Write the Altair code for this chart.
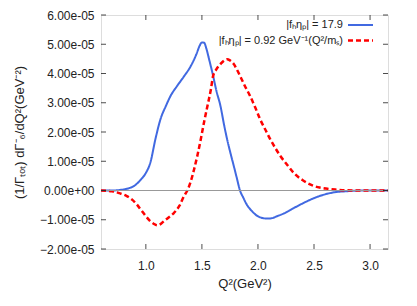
import altair as alt
import pandas as pd

# ---- data (y in units of 1e-5) ----
blue_x = [0.60, 0.70, 0.77, 0.85, 0.90, 0.95, 1.00, 1.04, 1.085, 1.13, 1.18, 1.22, 1.28, 1.34, 1.40,
          1.45, 1.48, 1.50, 1.52, 1.54, 1.56, 1.60, 1.63, 1.665, 1.70, 1.725, 1.76, 1.785, 1.81, 1.84,
          1.87, 1.90, 1.95, 1.99, 2.04, 2.08, 2.12, 2.17, 2.25, 2.32, 2.40, 2.47, 2.55, 2.62, 2.70,
          2.77, 2.85, 2.92, 3.16]
blue_y = [0.0, 0.0, 0.02, 0.08, 0.17, 0.35, 0.6, 0.95, 1.75, 2.43, 2.9, 3.23, 3.58, 3.9, 4.25,
          4.65, 4.95, 5.06, 5.05, 4.85, 4.55, 3.92, 3.4, 2.9, 2.2, 1.75, 1.2, 0.83, 0.45, 0.0,
          -0.25, -0.48, -0.72, -0.86, -0.94, -0.96, -0.95, -0.88, -0.75, -0.6, -0.44, -0.31, -0.19, -0.11, -0.05,
          -0.03, -0.01, 0.0, 0.0]

red_x = [0.60, 0.70, 0.77, 0.83, 0.88, 0.92, 0.96, 1.00, 1.04, 1.085, 1.10, 1.13, 1.16, 1.20, 1.25,
         1.30, 1.34, 1.37, 1.40, 1.43, 1.46, 1.49, 1.52, 1.55, 1.58, 1.60, 1.63, 1.665, 1.70, 1.725,
         1.75, 1.785, 1.81, 1.84, 1.88, 1.93, 1.98, 2.02, 2.07, 2.11, 2.16, 2.20, 2.26, 2.32, 2.40,
         2.47, 2.55, 2.62, 2.70, 2.77, 2.90, 3.16]
red_y = [0.0, -0.03, -0.1, -0.19, -0.32, -0.48, -0.68, -0.88, -1.05, -1.17, -1.19, -1.15, -1.05, -0.93, -0.77,
         -0.52, -0.19, 0.0, 0.3, 0.72, 1.2, 1.75, 2.35, 2.9, 3.45, 3.92, 4.15, 4.32, 4.45, 4.49,
         4.45, 4.32, 4.15, 3.92, 3.6, 3.23, 2.8, 2.43, 2.05, 1.75, 1.42, 1.18, 0.88, 0.6, 0.35,
         0.2, 0.1, 0.06, 0.03, 0.01, 0.0, 0.0]

series_names = ["|fₕηₚ| = 17.9", "|fₕηₚ| = 0.92 GeV⁻¹(Q²/mₛ)"]
series_colors = ["#4169e1", "#ff0000"]

x_ticks = [1, 1.5, 2, 2.5, 3]
y_ticks = [-2e-5, -1e-5, 0, 1e-5, 2e-5, 3e-5, 4e-5, 5e-5, 6e-5]
x_domain = [0.6, 3.16]
y_domain = [-2e-5, 6e-5]

# ---- tables ----
df_blue = pd.DataFrame({"q2": blue_x, "val": [v * 1e-5 for v in blue_y], "s": series_names[0]})
df_red = pd.DataFrame({"q2": red_x, "val": [v * 1e-5 for v in red_y], "s": series_names[1]})
df = pd.concat([df_blue, df_red], ignore_index=True)

FONT = "Liberation Sans"
xs = alt.Scale(domain=x_domain, nice=False, zero=False)
ys = alt.Scale(domain=y_domain, nice=False, zero=False)

x_axis = alt.Axis(
    values=x_ticks, title="Q²(GeV²)", ticks=False, domain=False, grid=False, labelOverlap=False,
    labelFontSize=12, labelPadding=11, titleFontSize=13, titleFontWeight="normal",
    titlePadding=6, labelColor="#222", titleColor="#222", labelFont=FONT, titleFont=FONT)
y_axis = alt.Axis(
    values=y_ticks, title="(1/Γₜₒₜ) dΓ⁻₆/dQ²(GeV⁻²)", ticks=False, domain=False, grid=False,
    labelOverlap=False,
    labelExpr="replace(replace(format(datum.value, '.2e'), 'e-', 'e-0'), 'e+', 'e+0')",
    labelFontSize=12, labelPadding=7, titleFontSize=13, titleFontWeight="normal",
    titlePadding=13, labelColor="#222", titleColor="#222", labelFont=FONT, titleFont=FONT)

lines = alt.Chart(df).mark_line(interpolate="monotone", clip=True).encode(
    x=alt.X("q2:Q", scale=xs, axis=x_axis),
    y=alt.Y("val:Q", scale=ys, axis=y_axis),
    color=alt.Color("s:N", scale=alt.Scale(domain=series_names, range=series_colors), legend=None),
    strokeDash=alt.StrokeDash("s:N", scale=alt.Scale(domain=series_names, range=[[1, 0], [5, 3]]), legend=None),
    strokeWidth=alt.StrokeWidth("s:N", scale=alt.Scale(domain=series_names, range=[2, 2.5]), legend=None),
)

zero = alt.Chart(pd.DataFrame({"z": [0.0]})).mark_rule(color="#999999", strokeWidth=1).encode(
    y=alt.Y("z:Q", scale=ys, axis=y_axis)
)

# inward tick marks on all four sides
xt = pd.DataFrame({"q2": x_ticks})
yt = pd.DataFrame({"val": y_ticks})
tick_bottom = alt.Chart(xt).mark_tick(orient="vertical", size=5, thickness=1, color="black", yOffset=-2.5).encode(
    x=alt.X("q2:Q", scale=xs, axis=x_axis), y=alt.datum(y_domain[0], scale=ys, axis=y_axis))
tick_top = alt.Chart(xt).mark_tick(orient="vertical", size=5, thickness=1, color="black", yOffset=2.5).encode(
    x=alt.X("q2:Q", scale=xs, axis=x_axis), y=alt.datum(y_domain[1], scale=ys, axis=y_axis))
tick_left = alt.Chart(yt).mark_tick(orient="horizontal", size=5, thickness=1, color="black", xOffset=2.5).encode(
    y=alt.Y("val:Q", scale=ys, axis=y_axis), x=alt.datum(x_domain[0], scale=xs, axis=x_axis))
tick_right = alt.Chart(yt).mark_tick(orient="horizontal", size=5, thickness=1, color="black", xOffset=-2.5).encode(
    y=alt.Y("val:Q", scale=ys, axis=y_axis), x=alt.datum(x_domain[1], scale=xs, axis=x_axis))

# manual legend (label left of sample, as in reference)
one = alt.Data(values=[{}])
leg = []
for i, (name, col) in enumerate(zip(series_names, series_colors)):
    ypix = 10 + 15.5 * i
    leg.append(alt.Chart(one).mark_text(align="right", baseline="middle", fontSize=11, font=FONT, color="#222").encode(
        x=alt.value(242), y=alt.value(ypix), text=alt.value(name)))
    leg.append(alt.Chart(one).mark_rule(color=col, strokeWidth=2 if i == 0 else 2.5,
                                        strokeDash=[1, 0] if i == 0 else [5, 3]).encode(
        x=alt.value(247), x2=alt.value(272), y=alt.value(ypix)))

chart = alt.layer(lines, zero, tick_bottom, tick_top, tick_left, tick_right, *leg).properties(
    width=287, height=234,
    autosize=alt.AutoSizeParams(type="none"),
    padding={"left": 93, "top": 7, "right": 21, "bottom": 49},
).configure_view(stroke="black", strokeWidth=1).configure(background="white")

chart.save("out.html", embed_options={"renderer": "svg", "actions": False})
